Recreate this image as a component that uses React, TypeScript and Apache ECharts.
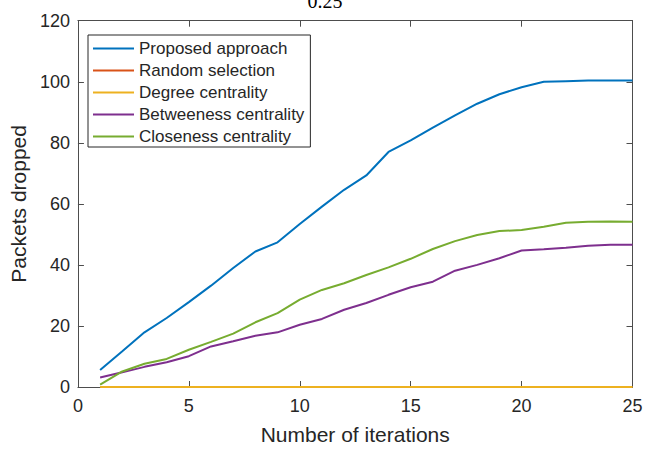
import React, { useEffect, useRef } from "react";
import * as echarts from "echarts";

const iterations = [1, 2, 3, 4, 5, 6, 7, 8, 9, 10, 11, 12, 13, 14, 15, 16, 17, 18, 19, 20, 21, 22, 23, 24, 25];
const proposed = [5.6, 11.7, 17.9, 22.6, 27.8, 33.2, 39.0, 44.4, 47.4, 53.4, 59.1, 64.6, 69.3, 77.0, 80.8, 85.0, 89.0, 92.8, 95.9, 98.2, 100.0, 100.2, 100.4, 100.4, 100.4];
const randomSel = [0, 0, 0, 0, 0, 0, 0, 0, 0, 0, 0, 0, 0, 0, 0, 0, 0, 0, 0, 0, 0, 0, 0, 0, 0];
const degree = [0, 0, 0, 0, 0, 0, 0, 0, 0, 0, 0, 0, 0, 0, 0, 0, 0, 0, 0, 0, 0, 0, 0, 0, 0];
const betweeness = [3.1, 4.8, 6.6, 8.1, 10.1, 13.3, 15.0, 16.8, 17.9, 20.4, 22.3, 25.3, 27.5, 30.2, 32.7, 34.5, 38.1, 40.0, 42.2, 44.7, 45.1, 45.6, 46.3, 46.6, 46.6];
const closeness = [0.8, 5.1, 7.6, 9.2, 12.2, 14.8, 17.5, 21.2, 24.2, 28.6, 31.8, 34.0, 36.7, 39.2, 42.0, 45.2, 47.8, 49.8, 51.1, 51.4, 52.5, 53.8, 54.1, 54.2, 54.1];

const seriesNames = ["Proposed approach", "Random selection", "Degree centrality", "Betweeness centrality", "Closeness centrality"];
const seriesColors = ["#0072BD", "#D95319", "#EDB120", "#7E2F8E", "#77AC30"];
const seriesWidths = [2, 1, 2, 2, 2];
const seriesData = [proposed, randomSel, degree, betweeness, closeness];

const titleText = "0.25";
const xName = "Number of iterations";
const yName = "Packets dropped";

export default function App() {
  const ref = useRef<HTMLDivElement>(null);
  useEffect(() => {
    if (!ref.current) return;
    const chart = echarts.init(ref.current, undefined, { renderer: "svg" });
    const font = "Liberation Sans";
    const axisColor = "#4d4d4d";
    const textColor = "#262626";
    const baseAxis = {
      type: "value" as const,
      axisLine: { show: true, onZero: false, lineStyle: { color: axisColor, width: 1 } },
      axisTick: { show: true, inside: true, length: 6, lineStyle: { color: axisColor } },
      splitLine: { show: false },
    };
    chart.setOption({
      animation: false,
      backgroundColor: "#ffffff",
      grid: { left: 75, right: 14.5, top: 20.7, bottom: 62.5, containLabel: false },
      graphic: [
        {
          type: "text",
          x: 325,
          y: 1,
          style: {
            text: titleText,
            fill: "#000",
            font: '20px "Liberation Serif"',
            textAlign: "center",
            textVerticalAlign: "middle",
          },
        },
      ],
      legend: {
        orient: "vertical",
        left: 88,
        top: 35,
        data: seriesNames,
        itemWidth: 41,
        itemHeight: 14,
        itemGap: 5,
        padding: [5, 6, 2, 4],
        borderColor: "#262626",
        borderWidth: 1,
        backgroundColor: "#fff",
        itemStyle: { opacity: 0 },
        textStyle: { fontFamily: font, fontSize: 17, color: textColor, lineHeight: 17 },
      },
      xAxis: [
        {
          ...baseAxis,
          position: "bottom",
          min: 0,
          max: 25,
          interval: 5,
          axisLabel: { fontFamily: font, fontSize: 18, color: textColor, margin: 10 },
          name: xName,
          nameLocation: "middle",
          nameGap: 37,
          nameTextStyle: { fontFamily: font, fontSize: 21, color: textColor },
        },
        {
          ...baseAxis,
          position: "top",
          min: 0,
          max: 25,
          interval: 5,
          axisLabel: { show: false },
        },
      ],
      yAxis: [
        {
          ...baseAxis,
          position: "left",
          min: 0,
          max: 120,
          interval: 20,
          axisLabel: { fontFamily: font, fontSize: 18, color: textColor, margin: 8 },
          name: yName,
          nameLocation: "middle",
          nameGap: 44,
          nameTextStyle: { fontFamily: font, fontSize: 21, color: textColor },
        },
        {
          ...baseAxis,
          position: "right",
          min: 0,
          max: 120,
          interval: 20,
          axisLabel: { show: false },
        },
      ],
      series: seriesNames.map((name, i) => ({
        name,
        type: "line",
        xAxisIndex: 0,
        yAxisIndex: 0,
        symbol: "none",
        showSymbol: false,
        color: seriesColors[i],
        lineStyle: { color: seriesColors[i], width: seriesWidths[i] },
        data: iterations.map((x, k) => [x, seriesData[i][k]]),
        z: 2 + i,
      })),
    });
    return () => chart.dispose();
  }, []);
  return <div ref={ref} style={{ position: "fixed", left: 0, top: 0, width: 647, height: 450 }} />;
}
